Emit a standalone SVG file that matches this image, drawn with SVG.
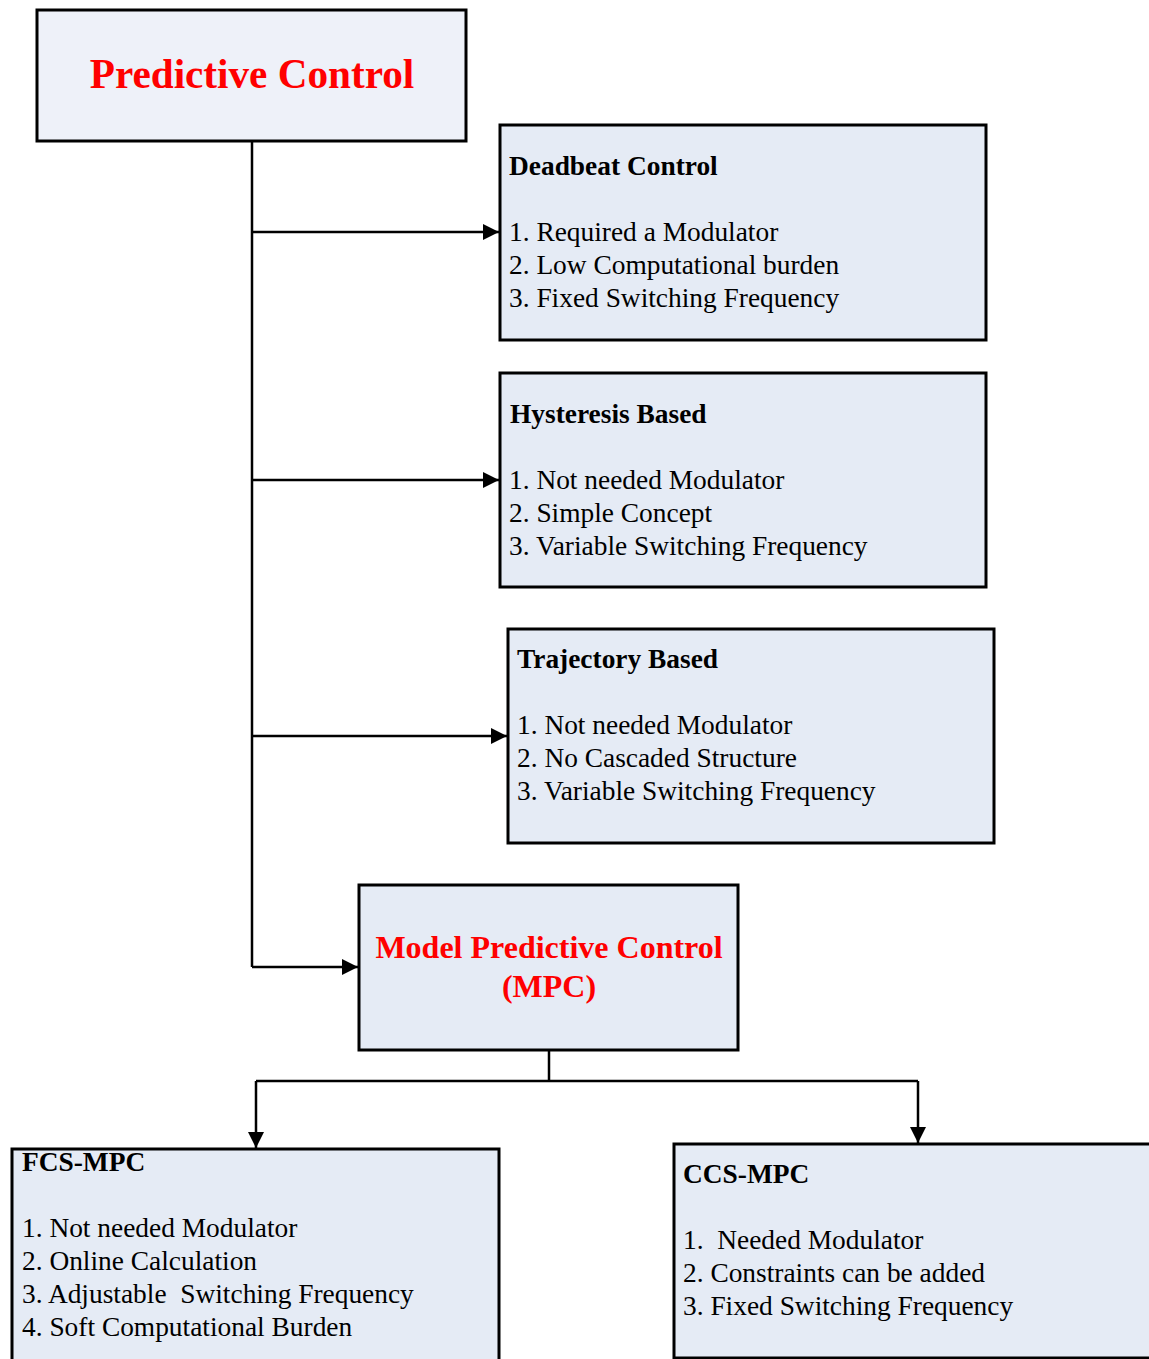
<svg xmlns="http://www.w3.org/2000/svg" width="1149" height="1359" viewBox="0 0 1149 1359">
<style>
.box{fill:#e5ebf5;stroke:#000;stroke-width:3}
.top{fill:#eef1f9}
.t{font-family:"Liberation Serif","Times New Roman",serif;font-size:27.4px;fill:#000;white-space:pre}
.b{font-weight:bold}
.red{fill:#ff0000;font-weight:bold}
.ln{fill:none;stroke:#000;stroke-width:2.5}
</style>
<defs>
<marker id="ah" viewBox="0 0 16 16" refX="16" refY="8" markerWidth="16" markerHeight="16" markerUnits="userSpaceOnUse" orient="auto">
<path d="M0,0 L16,8 L0,16 Z" fill="#000"/>
</marker>
</defs>
<rect width="1149" height="1359" fill="#fff"/>
<g id="connectors">
<path class="ln" d="M252,141 V967"/>
<path class="ln" d="M252,232 H499" marker-end="url(#ah)"/>
<path class="ln" d="M252,480 H499" marker-end="url(#ah)"/>
<path class="ln" d="M252,736 H507" marker-end="url(#ah)"/>
<path class="ln" d="M252,967 H358" marker-end="url(#ah)"/>
<path class="ln" d="M549,1050 V1081"/>
<path class="ln" d="M256,1081 H918"/>
<path class="ln" d="M256,1081 V1148" marker-end="url(#ah)"/>
<path class="ln" d="M918,1081 V1143" marker-end="url(#ah)"/>
</g>
<g id="predictive-control">
<rect class="box top" x="37" y="10" width="429" height="131"/>
<text class="t red" x="252" y="88" text-anchor="middle" style="font-size:41.2px">Predictive Control</text>
</g>
<g id="deadbeat">
<rect class="box" x="500" y="125" width="486" height="215"/>
<text class="t b" x="509" y="175">Deadbeat Control</text>
<text class="t" x="509" y="241">1. Required a Modulator</text>
<text class="t" x="509" y="274">2. Low Computational burden</text>
<text class="t" x="509" y="307">3. Fixed Switching Frequency</text>
</g>
<g id="hysteresis">
<rect class="box" x="500" y="373" width="486" height="214"/>
<text class="t b" x="510" y="423">Hysteresis Based</text>
<text class="t" x="509" y="489">1. Not needed Modulator</text>
<text class="t" x="509" y="522">2. Simple Concept</text>
<text class="t" x="509" y="555">3. Variable Switching Frequency</text>
</g>
<g id="trajectory">
<rect class="box" x="508" y="629" width="486" height="214"/>
<text class="t b" x="517" y="668">Trajectory Based</text>
<text class="t" x="517" y="734">1. Not needed Modulator</text>
<text class="t" x="517" y="767">2. No Cascaded Structure</text>
<text class="t" x="517" y="800">3. Variable Switching Frequency</text>
</g>
<g id="mpc">
<rect class="box" x="359" y="885" width="379" height="165"/>
<text class="t red" x="549" y="958" text-anchor="middle" style="font-size:32px">Model Predictive Control</text>
<text class="t red" x="549" y="997" text-anchor="middle" style="font-size:32px">(MPC)</text>
</g>
<g id="fcs-mpc">
<rect class="box" x="12" y="1149" width="487" height="225"/>
<text class="t b" x="22" y="1171">FCS-MPC</text>
<text class="t" x="22" y="1237">1. Not needed Modulator</text>
<text class="t" x="22" y="1270">2. Online Calculation</text>
<text class="t" x="22" y="1303">3. Adjustable  Switching Frequency</text>
<text class="t" x="22" y="1336">4. Soft Computational Burden</text>
</g>
<g id="ccs-mpc">
<rect class="box" x="674" y="1144" width="490" height="214"/>
<text class="t b" x="683" y="1183">CCS-MPC</text>
<text class="t" x="683" y="1249">1.  Needed Modulator</text>
<text class="t" x="683" y="1282">2. Constraints can be added</text>
<text class="t" x="683" y="1315">3. Fixed Switching Frequency</text>
</g>
</svg>
